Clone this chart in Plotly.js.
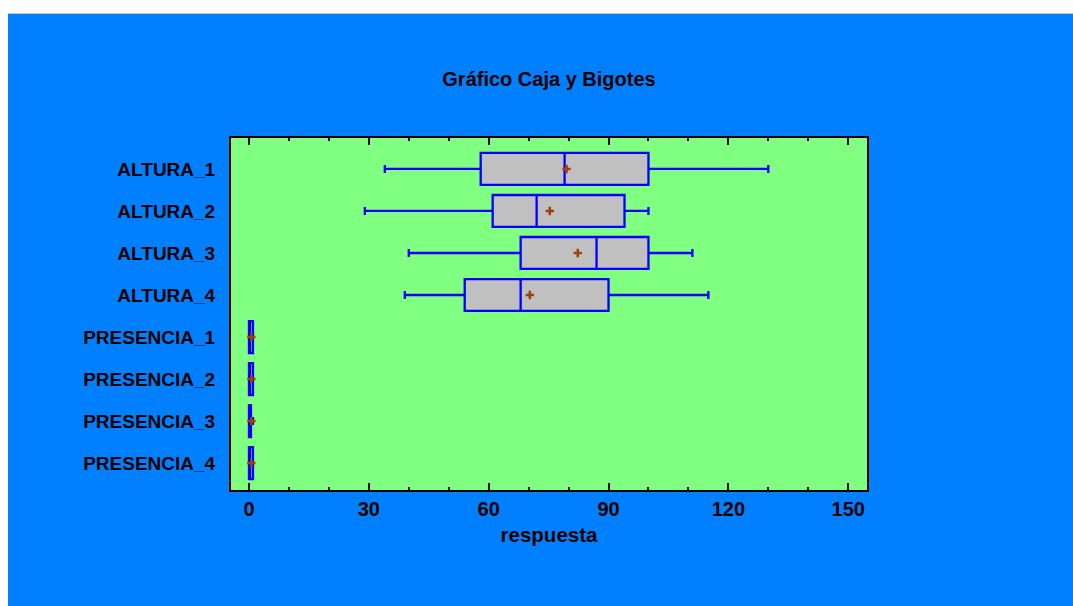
<!DOCTYPE html>
<html>
<head>
<meta charset="utf-8">
<script src="https://cdn.plot.ly/plotly-3.0.1.min.js"></script>
<style>
  html, body { margin: 0; padding: 0; background: #ffffff; }
  #chart { position: absolute; left: 8px; top: 13px; width: 1065px; height: 593px; border-top: 1px solid #b8c8d8; box-sizing: border-box; }
</style>
</head>
<body>
<div id="chart"></div>
<script>
// Data
const categories = ["ALTURA_1", "ALTURA_2", "ALTURA_3", "ALTURA_4",
                    "PRESENCIA_1", "PRESENCIA_2", "PRESENCIA_3", "PRESENCIA_4"];
const lowerFence = [34, 29, 40, 39, 0, 0, 0, 0];
const q1Values   = [58, 61, 68, 54, 0, 0, 0, 0];
const medians    = [79, 72, 87, 68, 0, 0, 0, 0];
const q3Values   = [100, 94, 100, 90, 1, 1, 0.5, 1];
const upperFence = [130, 100, 111, 115, 1, 1, 1, 1];
const means      = [79.5, 75.3, 82.3, 70.3, 0.6, 0.6, 0.6, 0.6];
const xTickVals  = [0, 30, 60, 90, 120, 150];

const boxTrace = {
  type: 'box',
  orientation: 'h',
  y: categories,
  lowerfence: lowerFence,
  q1: q1Values,
  median: medians,
  q3: q3Values,
  upperfence: upperFence,
  fillcolor: '#C0C0C0',
  line: { color: '#0000FF', width: 2.3 },
  whiskerwidth: 0.25,
  boxpoints: false,
  hoverinfo: 'x+y',
  showlegend: false
};

const meanTrace = {
  type: 'scatter',
  mode: 'markers',
  x: means,
  y: categories,
  marker: { symbol: 'cross-thin-open', size: 6, line: { color: '#A0400A', width: 2.5 }, color: '#A0400A' },
  showlegend: false,
  hoverinfo: 'x'
};

const layout = {
  width: 1065,
  height: 593,
  paper_bgcolor: '#0080FF',
  plot_bgcolor: '#80FF80',
  margin: { l: 223, r: 206, t: 124, b: 117, pad: 0 },
  font: { family: 'Liberation Sans, Arial, sans-serif', color: '#000000' },
  title: {
    text: '<b>Gráfico Caja y Bigotes</b>',
    font: { size: 20, family: 'Liberation Sans, Arial, sans-serif', color: '#000000' },
    x: 0.5, xanchor: 'center', xref: 'paper',
    y: 1 - 65 / 593, yanchor: 'middle', yref: 'container'
  },
  boxgap: 0.24,
  boxgroupgap: 0,
  xaxis: {
    range: [-4.5, 154.7],
    tickvals: xTickVals,
    ticktext: xTickVals.map(v => '<b>' + v + '</b>'),
    ticks: 'inside',
    ticklen: 7,
    tickwidth: 2,
    tickcolor: '#000000',
    tickfont: { size: 20 },
    minor: { dtick: 10, tick0: 0, ticks: 'inside', ticklen: 3, tickwidth: 2, tickcolor: '#000000', showgrid: false },
    showline: true,
    linecolor: '#000000',
    linewidth: 2,
    mirror: 'allticks',
    showgrid: false,
    zeroline: false,
    title: { text: '<b>respuesta</b>', font: { size: 20.5 }, standoff: 9 }
  },
  yaxis: {
    type: 'category',
    categoryorder: 'array',
    categoryarray: categories,
    range: [7.64, -0.736],
    ticks: '',
    tickfont: { size: 19 },
    ticktext: categories.map(c => '<b>' + c + '</b>'),
    tickvals: categories,
    ticklabelstandoff: 10,
    showline: true,
    linecolor: '#000000',
    linewidth: 2,
    mirror: true,
    showgrid: false,
    zeroline: false
  }
};

Plotly.newPlot('chart', [boxTrace, meanTrace], layout, { displayModeBar: false, staticPlot: true });
</script>
</body>
</html>
